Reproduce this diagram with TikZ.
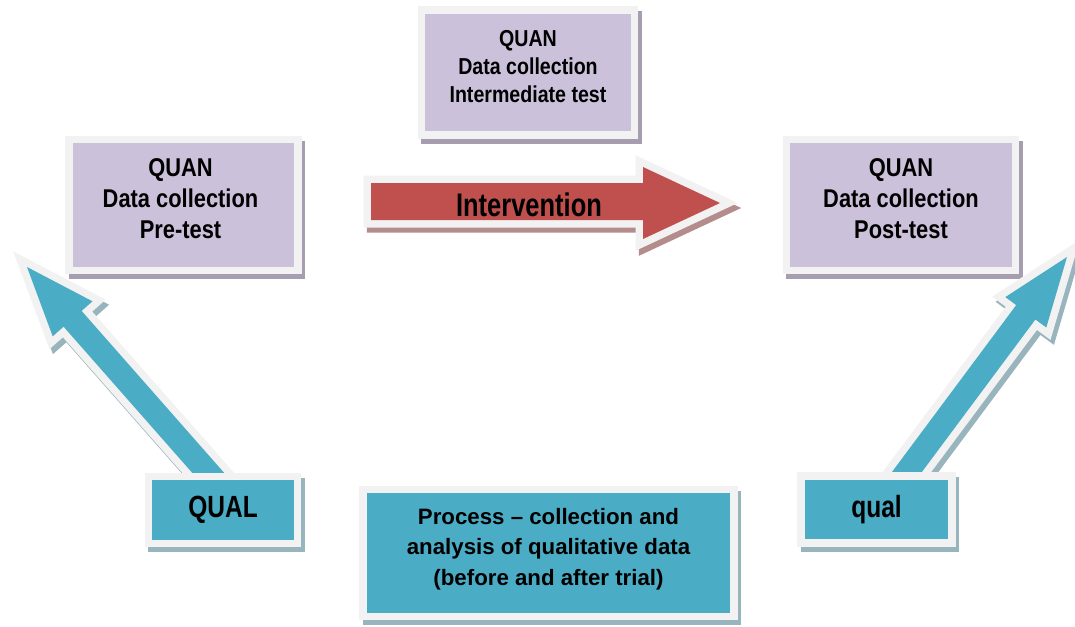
\documentclass[tikz,border=0pt]{standalone}
\usepackage{fontspec}
\setmainfont{Liberation Sans}
\newfontfamily\narrowsans{Liberation Sans}[FakeStretch=0.85]
\newfontfamily\qualsans{Liberation Sans}[FakeStretch=0.80]
\newfontfamily\intvsans{Liberation Sans}[FakeStretch=0.78]
\usetikzlibrary{calc}

\definecolor{lavender}{HTML}{CCC1DA}
\definecolor{qualblue}{HTML}{4BACC6}
\definecolor{interred}{HTML}{C0504D}
\definecolor{framegray}{HTML}{F2F2F2}
\definecolor{lavshadow}{HTML}{A69EB0}
\definecolor{blueshadow}{HTML}{98B4BC}
\definecolor{redshadow}{HTML}{B48C8B}

\tikzset{
  % boxes: the frame straddles the node border, so nodes are sized to the frame centre
  framed/.style 2 args={draw=framegray, line width=5.625pt, line join=miter, fill=#1,
    preaction={draw=#2, fill=#2, line width=5.625pt, line join=miter,
      transform canvas={xshift=2.6pt, yshift=-3.75pt}}},
  % block arrows: the frame lies wholly outside the coloured outline
  blockarrow/.style 2 args={fill=#1,
    preaction={draw=#2, fill=#2, line width=11.25pt, line join=miter,
      transform canvas={xshift=2.6pt, yshift=-3.75pt}},
    preaction={draw=framegray, fill=framegray, line width=11.25pt, line join=miter}},
  quanbox/.style={framed={lavender}{lavshadow}, rectangle, inner sep=0pt},
  qualbox/.style={framed={qualblue}{blueshadow}, rectangle, inner sep=0pt},
  bigtext/.style={align=center, inner sep=0pt, font=\narrowsans\bfseries\fontsize{19.3}{23.2}\selectfont},
  smalltext/.style={align=center, inner sep=0pt, font=\narrowsans\bfseries\fontsize{17.3}{21}\selectfont},
  proctext/.style={align=center, inner sep=0pt, font=\bfseries\fontsize{16.7}{22.9}\selectfont},
  labeltext/.style={font=\qualsans\bfseries\fontsize{23}{26}\selectfont},
}

\begin{document}
\begin{tikzpicture}[x=0.75pt, y=-0.75pt]
  \useasboundingbox (0,0) rectangle (1075,626);

  % quantitative measurement boxes
  \node[quanbox, minimum width=160.1pt, minimum height=93.4pt] (mid) at (528,72.5) {};
  \node[smalltext] (midtxt) at ($(mid.center)+(0,-6)$) {QUAN\\Data collection\\Intermediate test};

  \node[quanbox, minimum width=171.4pt, minimum height=98.6pt] (pre) at (183.5,205) {};
  \node[bigtext] (pretxt) at ($(pre.center)+(-3,-6)$) {QUAN\\Data collection\\Pre-test};

  \node[quanbox, minimum width=172.1pt, minimum height=98.6pt] (post) at (901,205) {};
  \node[bigtext] (posttxt) at ($(post.center)+(0,-6)$) {QUAN\\Data collection\\Post-test};

  % intervention block arrow
  \path[blockarrow={interred}{redshadow}]
    (371,183) -- (643,183) -- (643,167) -- (720,203) -- (643,239) -- (643,220) -- (371,220) -- cycle;
  \node[font=\intvsans\bfseries\fontsize{24.5}{28}\selectfont] (intv) at (529,205) {Intervention};

  % qualitative arrows rising to the measurement boxes
  \path[blockarrow={qualblue}{blueshadow}]
    (214.3,497.9) -- (63.6,326.7) -- (52.7,336.3) -- (27,267) -- (92.5,301.3) -- (81.6,310.9) -- (232.3,482.1) -- cycle;
  \path[blockarrow={qualblue}{blueshadow}]
    (883.9,482.8) -- (1016.2,305.1) -- (1005.3,297.1) -- (1067,257) -- (1046.3,327.5) -- (1035.4,319.5) -- (903.1,497.2) -- cycle;

  % qualitative boxes
  \node[qualbox, labeltext, minimum width=112.1pt, minimum height=50.6pt] (qualL) at (223,510) {QUAL};
  \node[qualbox, labeltext, minimum width=112.9pt, minimum height=49.9pt] (qualR) at (876.5,509.5) {qual};

  \node[qualbox, minimum width=277.9pt, minimum height=95.6pt] (proc) at (548.5,553) {};
  \node[proctext] (proctxt) at ($(proc.center)+(0,-4)$) {Process -- collection and\\analysis of qualitative data\\(before and after trial)};
\end{tikzpicture}
\end{document}
